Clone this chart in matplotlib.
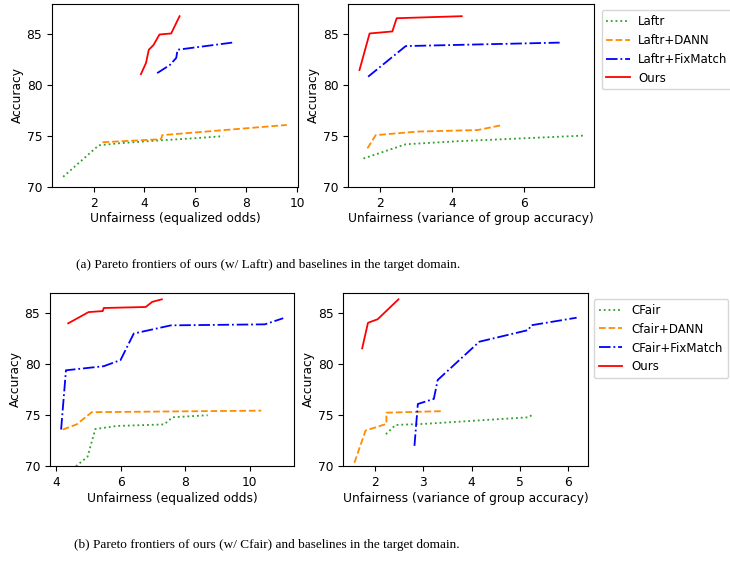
import matplotlib
matplotlib.use("Agg")
import matplotlib.pyplot as plt

plt.rcParams['font.size'] = 8.8

# (a) Laftr - equalized odds
a_eo_laftr_x = [0.8, 2.2, 3.0, 4.7, 6.0, 7.1]
a_eo_laftr_y = [71.0, 74.1, 74.3, 74.6, 74.8, 75.0]
a_eo_dann_x = [2.35, 4.65, 4.7, 9.6]
a_eo_dann_y = [74.4, 74.7, 75.1, 76.1]
a_eo_fix_x = [4.5, 5.0, 5.25, 5.3, 7.45]
a_eo_fix_y = [81.2, 82.0, 82.7, 83.5, 84.2]
a_eo_ours_x = [3.86, 4.06, 4.17, 4.35, 4.59, 5.05, 5.38]
a_eo_ours_y = [81.1, 82.2, 83.5, 83.95, 85.0, 85.1, 86.8]

# (a) Laftr - variance of group accuracy
a_var_laftr_x = [1.55, 2.72, 4.16, 7.63]
a_var_laftr_y = [72.8, 74.2, 74.5, 75.05]
a_var_dann_x = [1.66, 1.89, 3.05, 4.71, 5.41]
a_var_dann_y = [73.8, 75.1, 75.45, 75.6, 76.1]
a_var_fix_x = [1.68, 2.72, 5.08, 6.98]
a_var_fix_y = [80.85, 83.86, 84.05, 84.2]
a_var_ours_x = [1.44, 1.72, 2.35, 2.47, 4.27]
a_var_ours_y = [81.5, 85.1, 85.3, 86.6, 86.8]

# (b) CFair - equalized odds
b_eo_cfair_x = [4.62, 4.98, 5.22, 5.89, 7.35, 7.61, 8.7]
b_eo_cfair_y = [70.0, 70.95, 73.65, 73.95, 74.1, 74.8, 75.0]
b_eo_dann_x = [4.21, 4.64, 5.11, 10.36]
b_eo_dann_y = [73.6, 74.1, 75.3, 75.45]
b_eo_fix_x = [4.16, 4.31, 5.48, 6.0, 6.41, 7.56, 10.47, 11.04]
b_eo_fix_y = [73.6, 79.4, 79.8, 80.4, 83.0, 83.8, 83.9, 84.5]
b_eo_ours_x = [4.38, 5.01, 5.45, 5.48, 6.78, 6.98, 7.28]
b_eo_ours_y = [84.0, 85.1, 85.2, 85.5, 85.6, 86.1, 86.35]

# (b) CFair - variance of group accuracy
b_var_cfair_x = [2.23, 2.43, 3.01, 5.18, 5.24]
b_var_cfair_y = [73.15, 74.05, 74.15, 74.8, 75.0]
b_var_dann_x = [1.58, 1.81, 2.24, 2.24, 3.39]
b_var_dann_y = [70.35, 73.5, 74.15, 75.25, 75.4]
b_var_fix_x = [2.82, 2.89, 3.22, 3.3, 4.16, 5.18, 5.22, 6.17]
b_var_fix_y = [72.0, 76.1, 76.6, 78.45, 82.2, 83.35, 83.8, 84.55]
b_var_ours_x = [1.74, 1.86, 2.06, 2.49]
b_var_ours_y = [81.55, 84.05, 84.4, 86.35]

labels_a = ['Laftr', 'Laftr+DANN', 'Laftr+FixMatch', 'Ours']
labels_b = ['CFair', 'Cfair+DANN', 'CFair+FixMatch', 'Ours']
styles = [('tab:green', ':'), ('darkorange', '--'), ('blue', '-.'), ('red', '-')]

fig = plt.figure(figsize=(7.3, 5.62), dpi=100)
ax1 = fig.add_axes([0.0712, 0.6673, 0.337, 0.3256])
ax2 = fig.add_axes([0.4771, 0.6673, 0.337, 0.3256])
ax3 = fig.add_axes([0.0685, 0.1703, 0.3347, 0.3089])
ax4 = fig.add_axes([0.4703, 0.1703, 0.3348, 0.3089])

panels = [
    (ax1, [(a_eo_laftr_x, a_eo_laftr_y), (a_eo_dann_x, a_eo_dann_y),
           (a_eo_fix_x, a_eo_fix_y), (a_eo_ours_x, a_eo_ours_y)],
     labels_a, 'Unfairness (equalized odds)', 88),
    (ax2, [(a_var_laftr_x, a_var_laftr_y), (a_var_dann_x, a_var_dann_y),
           (a_var_fix_x, a_var_fix_y), (a_var_ours_x, a_var_ours_y)],
     labels_a, 'Unfairness (variance of group accuracy)', 88),
    (ax3, [(b_eo_cfair_x, b_eo_cfair_y), (b_eo_dann_x, b_eo_dann_y),
           (b_eo_fix_x, b_eo_fix_y), (b_eo_ours_x, b_eo_ours_y)],
     labels_b, 'Unfairness (equalized odds)', 87),
    (ax4, [(b_var_cfair_x, b_var_cfair_y), (b_var_dann_x, b_var_dann_y),
           (b_var_fix_x, b_var_fix_y), (b_var_ours_x, b_var_ours_y)],
     labels_b, 'Unfairness (variance of group accuracy)', 87),
]

for ax, series, labels, xlabel, ytop in panels:
    for (x, y), lab, (c, ls) in zip(series, labels, styles):
        ax.plot(x, y, color=c, linestyle=ls, label=lab, linewidth=1.3)
    ax.set_ylim(70, ytop)
    ax.set_yticks([70, 75, 80, 85])
    ax.set_xlabel(xlabel, labelpad=2)
    ax.set_ylabel('Accuracy', labelpad=2)

ax1.set_xticks([2, 4, 6, 8, 10])
ax2.set_xticks([2, 4, 6])
ax3.set_xticks([4, 6, 8, 10])
ax4.set_xticks([2, 3, 4, 5, 6])

# legends sit at the right edge, as in the source figure
h, l = ax2.get_legend_handles_labels()
fig.legend(h, l, loc='upper left', bbox_to_anchor=(0.8242, 0.982), fontsize=8.5,
           handlelength=2.0, handletextpad=0.7, borderaxespad=0)
h, l = ax4.get_legend_handles_labels()
fig.legend(h, l, loc='upper left', bbox_to_anchor=(0.8137, 0.468), fontsize=8.5,
           handlelength=2.0, handletextpad=0.8, borderaxespad=0)

fig.text(0.367, 0.5285, '(a) Pareto frontiers of ours (w/ Laftr) and baselines in the target domain.',
         ha='center', va='center', family='Liberation Serif', fontsize=9.5)
fig.text(0.365, 0.0302, '(b) Pareto frontiers of ours (w/ Cfair) and baselines in the target domain.',
         ha='center', va='center', family='Liberation Serif', fontsize=9.5)

fig.savefig('out.png', dpi=100)
